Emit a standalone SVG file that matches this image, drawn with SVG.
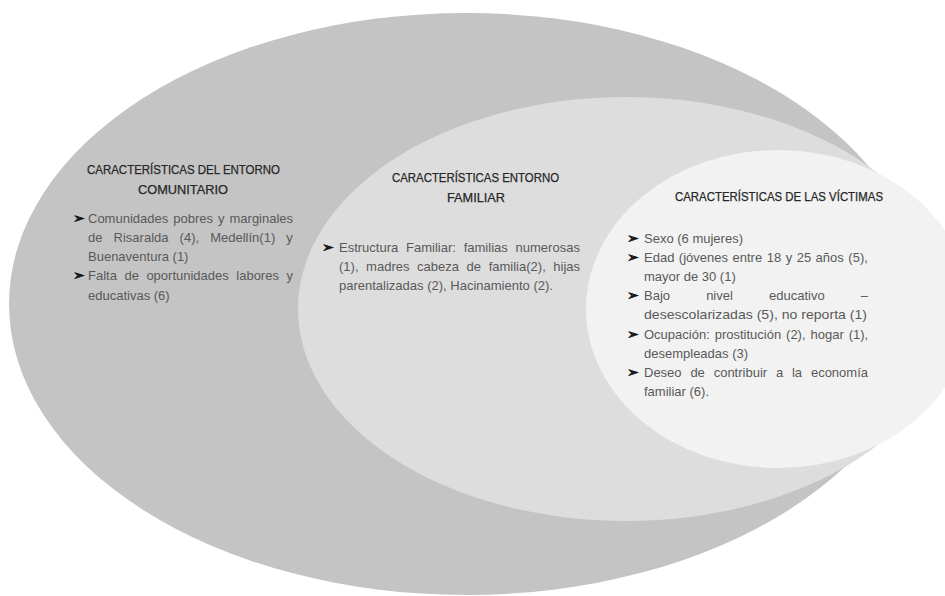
<svg xmlns="http://www.w3.org/2000/svg" width="945" height="596" viewBox="0 0 945 596">
<style>
.t{font-family:"Liberation Sans",Arial,sans-serif;font-size:13px;fill:#262626;stroke:#262626;stroke-width:0.25}
.b{font-family:"Liberation Sans",Arial,sans-serif;font-size:13px;fill:#595959}
.k{font-family:"DejaVu Sans","Noto Sans",sans-serif;font-size:14px;fill:#141414;stroke:#141414;stroke-width:0.6}
</style>
<rect width="945" height="596" fill="#ffffff"/>
<g id="node-comunitario">
<ellipse cx="466" cy="304" rx="457" ry="291" fill="#c4c4c4"/>
<text class="t" x="87" y="174" textLength="193" lengthAdjust="spacingAndGlyphs">CARACTERÍSTICAS DEL ENTORNO</text>
<text class="t" x="138" y="194" textLength="90" lengthAdjust="spacingAndGlyphs">COMUNITARIO</text>
<text class="k" x="73" y="223">➢</text>
<text class="b" x="88" y="223" word-spacing="1.4">Comunidades pobres y marginales</text>
<text class="b" x="88" y="242" word-spacing="7.5">de Risaralda (4), Medellín(1) y</text>
<text class="b" x="88" y="261">Buenaventura (1)</text>
<text class="k" x="73" y="280">➢</text>
<text class="b" x="88" y="280" word-spacing="3.9">Falta de oportunidades labores y</text>
<text class="b" x="88" y="300">educativas (6)</text>
</g>
<g id="node-familiar">
<ellipse cx="626" cy="309" rx="328" ry="212" fill="#dddddd"/>
<text class="t" x="392" y="182" textLength="167" lengthAdjust="spacingAndGlyphs">CARACTERÍSTICAS ENTORNO</text>
<text class="t" x="447" y="202" textLength="58" lengthAdjust="spacingAndGlyphs">FAMILIAR</text>
<text class="k" x="322" y="252">➢</text>
<text class="b" x="339" y="252" word-spacing="4.2">Estructura Familiar: familias numerosas</text>
<text class="b" x="339" y="271" word-spacing="4">(1), madres cabeza de familia(2), hijas</text>
<text class="b" x="339" y="290">parentalizadas (2), Hacinamiento (2).</text>
</g>
<g id="node-victimas">
<ellipse cx="778" cy="309" rx="192" ry="159" fill="#f2f2f2"/>
<text class="t" x="675" y="201" textLength="208" lengthAdjust="spacingAndGlyphs">CARACTERÍSTICAS DE LAS VÍCTIMAS</text>
<text class="k" x="627" y="243">➢</text>
<text class="b" x="644" y="243">Sexo (6 mujeres)</text>
<text class="k" x="627" y="262">➢</text>
<text class="b" x="644" y="262" word-spacing="0.9">Edad (jóvenes entre 18 y 25 años (5),</text>
<text class="b" x="644" y="281">mayor de 30 (1)</text>
<text class="k" x="627" y="300">➢</text>
<text class="b" x="644" y="300" word-spacing="32.5">Bajo nivel educativo –</text>
<text class="b" x="644" y="319" textLength="223" lengthAdjust="spacingAndGlyphs">desescolarizadas (5), no reporta (1)</text>
<text class="k" x="627" y="339">➢</text>
<text class="b" x="644" y="339" word-spacing="1.3">Ocupación: prostitución (2), hogar (1),</text>
<text class="b" x="644" y="358">desempleadas (3)</text>
<text class="k" x="627" y="377">➢</text>
<text class="b" x="644" y="377" word-spacing="5.2">Deseo de contribuir a la economía</text>
<text class="b" x="644" y="396">familiar (6).</text>
</g>
<g id="connectors"/>
</svg>
